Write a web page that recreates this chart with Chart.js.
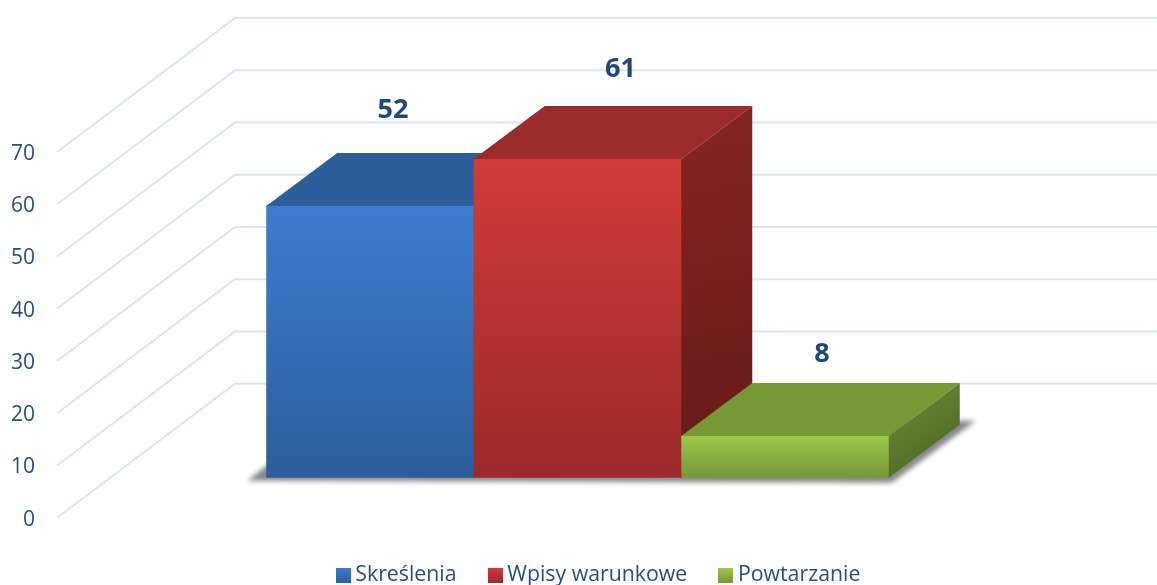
<!DOCTYPE html>
<html><head><meta charset="utf-8">
<style>html,body{margin:0;padding:0;background:#fff}canvas{display:block}</style>
<script src="https://cdn.jsdelivr.net/npm/chart.js@4"></script>
</head><body><canvas id="c" width="1157" height="585"></canvas>
<script>
const categories = ['Oceny'];
const seriesNames = ['Skreślenia', 'Wpisy warunkowe', 'Powtarzanie'];
const skreslenia = [52];
const wpisyWarunkowe = [61];
const powtarzanie = [8];
const yTickStep = 10;
const yMax = 70;

const FONT = '"Open Sans", sans-serif';
const TEXT = '#27507F', LABEL = '#1F497D', GRID = '#D9E5F6';
const WALL = {dx: 178, dy: -134};
const BAR = {dx: 71, dy: -53, lift: -40};
const faces = [
  {front: ['#3C7DD0', '#2D5E9B'], top: '#2C5E99', side: ['#2A5A92', '#1E4370']},
  {front: ['#D23B38', '#9A2B2A'], top: '#9C2C2B', side: ['#862621', '#641A1A']},
  {front: ['#9CC846', '#76963A'], top: '#769936', side: ['#6F9037', '#47601F']}
];
const labelNudge = [[23, -96], [43, -90], [37, -82]];

function swatch(f) {
  const cv = document.createElement('canvas'); cv.width = 15; cv.height = 15;
  const x = cv.getContext('2d'), g = x.createLinearGradient(0, 0, 0, 15);
  g.addColorStop(0, f.front[0]); g.addColorStop(1, f.front[1]);
  x.fillStyle = g; x.fillRect(0, 0, 15, 15);
  return cv;
}
const swatches = faces.map(swatch);

function frontFill(i) {
  return ctx => {
    const ch = ctx.chart;
    if (!ch.chartArea || !ch.scales.y) return faces[i].front[0];
    const y = ch.scales.y;
    const g = ch.ctx.createLinearGradient(0, y.getPixelForValue(ctx.dataset.data[0]), 0, y.getPixelForValue(0));
    g.addColorStop(0, faces[i].front[0]); g.addColorStop(1, faces[i].front[1]);
    return g;
  };
}

function poly(c, pts, fill) {
  c.beginPath(); pts.forEach((p, i) => i ? c.lineTo(p[0], p[1]) : c.moveTo(p[0], p[1]));
  c.closePath(); c.fillStyle = fill; c.fill();
}

const scene3d = {
  id: 'scene3d',
  afterLayout(ch) {
    ch.legend.left += 52; ch.legend.right += 52;
    ch.legend.top += 2; ch.legend.bottom += 2;
  },
  beforeDatasetsDraw(ch) {
    const c = ch.ctx, y = ch.scales.y, area = ch.chartArea;
    // perspective grid: side wall and back wall
    c.save(); c.strokeStyle = GRID; c.lineWidth = 2;
    y.ticks.forEach(t => {
      const py = y.getPixelForValue(t.value);
      c.beginPath(); c.moveTo(area.left, py);
      c.lineTo(area.left + WALL.dx, py + WALL.dy);
      c.lineTo(ch.width + 2, py + WALL.dy); c.stroke();
    });
    c.restore();

    const metas = ch.data.datasets.map((d, i) => ch.getDatasetMeta(i));
    // floor shadow
    const b0 = metas[0].data[0], b2 = metas[2].data[0];
    const x0 = b0.x - b0.width / 2, x1 = b2.x + b2.width / 2, yb = y.getPixelForValue(0) + BAR.lift;
    c.save(); c.filter = 'blur(2.5px)';
    poly(c, [[x0 - 19, yb + 3], [x0 + 60, yb - 58], [x1 + 87, yb - 57], [x1 + 3, yb + 5]], 'rgba(95,95,95,0.75)');
    c.restore();

    metas.forEach((m, i) => {
      const b = m.data[0], f = faces[i];
      const l = b.x - b.width / 2, r = b.x + b.width / 2;
      const top = y.getPixelForValue(ch.data.datasets[i].data[0]) + BAR.lift;
      const bot = y.getPixelForValue(0) + BAR.lift;
      const sg = c.createLinearGradient(r, top + BAR.dy, r + BAR.dx, bot);
      sg.addColorStop(0, f.side[0]); sg.addColorStop(1, f.side[1]);
      poly(c, [[r - 1, top], [r, top], [r + BAR.dx, top + BAR.dy], [r + BAR.dx, bot + BAR.dy], [r, bot], [r - 1, bot]], sg);
      poly(c, [[l, top + 1], [l, top], [l + BAR.dx, top + BAR.dy], [r + BAR.dx, top + BAR.dy], [r, top], [r, top + 1]], f.top);
      c.save(); c.translate(0, BAR.lift); b.draw(c); c.restore();
    });

    // value labels
    c.save(); c.font = 'bold 27px ' + FONT; c.fillStyle = LABEL;
    c.textAlign = 'center'; c.textBaseline = 'middle';
    metas.forEach((m, i) => {
      const b = m.data[0], v = ch.data.datasets[i].data[0];
      c.fillText(String(v), b.x + labelNudge[i][0], y.getPixelForValue(v) + BAR.lift + labelNudge[i][1]);
    });
    c.restore();
    return false;
  }
};

new Chart(document.getElementById('c'), {
  type: 'bar',
  data: {
    labels: categories,
    datasets: [
      {label: seriesNames[0], data: skreslenia, backgroundColor: frontFill(0)},
      {label: seriesNames[1], data: wpisyWarunkowe, backgroundColor: frontFill(1)},
      {label: seriesNames[2], data: powtarzanie, backgroundColor: frontFill(2)}
    ]
  },
  plugins: [scene3d],
  options: {
    responsive: false, animation: false,
    categoryPercentage: 0.598, barPercentage: 1, borderWidth: 0,
    layout: {padding: {top: 152, left: 0, right: 59, bottom: -9}},
    plugins: {
      tooltip: {enabled: false},
      legend: {
        position: 'bottom',
        labels: {
          usePointStyle: true, pointStyleWidth: 3, padding: 37,
          color: TEXT, font: {family: FONT, size: 21.3},
          generateLabels(ch) {
            return Chart.defaults.plugins.legend.labels.generateLabels(ch)
              .map((it, i) => Object.assign(it, {pointStyle: swatches[i]}));
          }
        }
      }
    },
    scales: {
      x: {
        grid: {display: false}, border: {display: false}, ticks: {display: false},
        afterFit(s) { s.height = 8; }
      },
      y: {
        min: 0, max: yMax,
        grid: {display: false, drawTicks: false}, border: {display: false},
        ticks: {stepSize: yTickStep, autoSkip: false, padding: 22, labelOffset: 2, color: TEXT, font: {family: FONT, size: 21}},
        afterFit(s) { s.width = 57; }
      }
    }
  }
});
</script></body></html>
